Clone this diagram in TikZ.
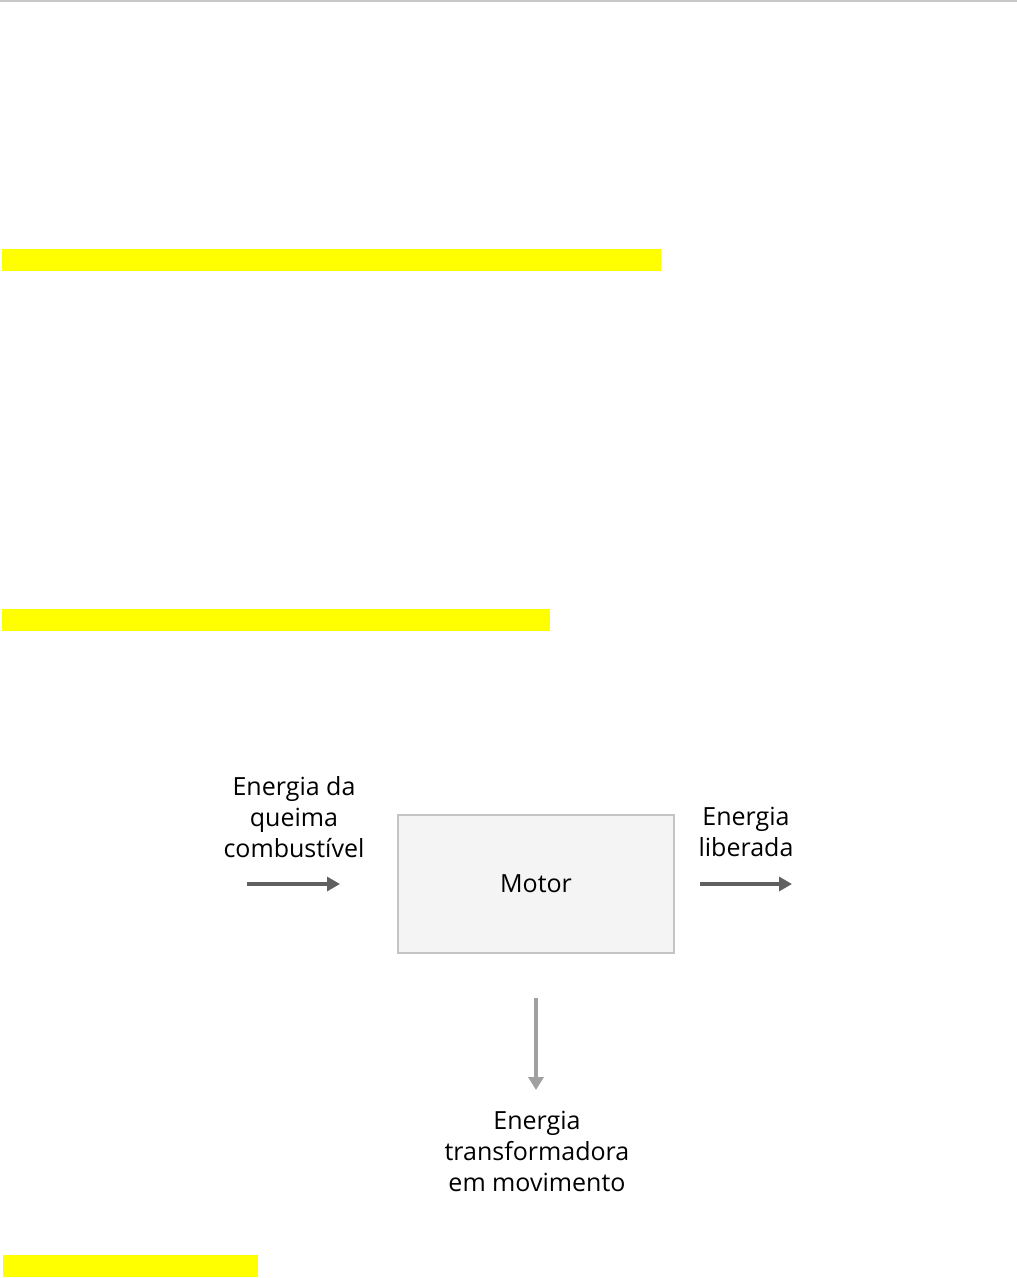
\documentclass[tikz,border=0pt]{standalone}
\usepackage{fontspec}
\setmainfont{Open Sans}
\usetikzlibrary{arrows.meta}
\definecolor{hl}{RGB}{255,255,0}
\definecolor{rule}{RGB}{200,200,200}
\definecolor{boxfill}{RGB}{244,244,244}
\definecolor{boxline}{RGB}{196,196,196}
\definecolor{darkarrow}{RGB}{96,96,96}
\definecolor{lightarrow}{RGB}{160,160,160}
\tikzset{
  hlbar/.style={fill=hl, draw=none},
  lbl/.style={align=center, font=\fontsize{25}{31}\selectfont, inner sep=0pt, text=black},
  flowdark/.style={draw=darkarrow, line width=3.2pt, -{Triangle[length=13pt,width=14pt]}},
  flowlight/.style={draw=lightarrow, line width=3.2pt, -{Triangle[length=13pt,width=15pt]}},
  motorbox/.style={draw=boxline, fill=boxfill, line width=2.8pt, minimum width=276pt, minimum height=138pt, inner sep=0pt, font=\fontsize{25}{31}\selectfont}
}
\begin{document}
\begin{tikzpicture}[x=1pt,y=-1pt]
\useasboundingbox (0,0) rectangle (1017,1278);
\fill[rule] (0,0) rectangle (1017,2);
\fill[hlbar] (2,249) rectangle (661,271);
\fill[hlbar] (2,609) rectangle (550,631);
\fill[hlbar] (3,1255) rectangle (258,1277);
\node[motorbox] (motor) at (536,884) {Motor};
\node[lbl] (inlbl) at (294,817) {Energia da\\queima\\combustível};
\node[lbl] (outlbl) at (746,832) {Energia\\liberada};
\node[lbl] (downlbl) at (537,1151) {Energia\\transformadora\\em movimento};
\coordinate (ina) at (247,884);
\coordinate (inb) at (340,884);
\coordinate (outa) at (700,884);
\coordinate (outb) at (792,884);
\coordinate (downa) at (536,998);
\coordinate (downb) at (536,1090);
\draw[flowdark] (ina) -- (inb);
\draw[flowdark] (outa) -- (outb);
\draw[flowlight] (downa) -- (downb);
\end{tikzpicture}
\end{document}
